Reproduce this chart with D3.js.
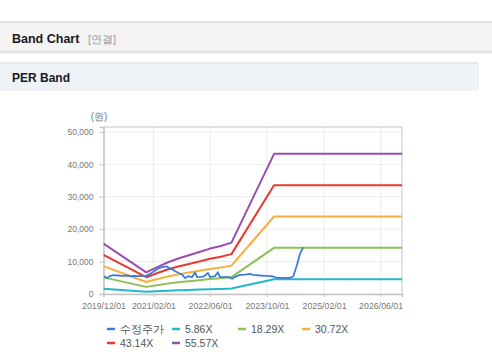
<!DOCTYPE html>
<html>
<head>
<meta charset="utf-8">
<script src="https://cdn.jsdelivr.net/npm/d3@7"></script>
<style>
  html, body { margin: 0; padding: 0; background: #fff; }
  body { width: 492px; height: 361px; overflow: hidden; font-family: "Liberation Sans", Arial, sans-serif; }
</style>
</head>
<body>
<svg id="chart" width="492" height="361"></svg>
<script>
// ---------- DATA ----------
const bandDates = ["2019-12-01","2020-12-01","2021-03-01","2021-06-01","2021-09-01","2021-12-01","2022-03-01","2022-06-01","2022-09-01","2022-12-01","2023-12-01","2026-12-01"];
const band586  = [1641, 703, 867, 1026, 1154, 1260, 1365, 1477, 1559, 1670, 4559, 4559];
const band1829 = [5121, 2195, 2707, 3201, 3603, 3932, 4262, 4609, 4865, 5213, 14230, 14230];
const band3072 = [8602, 3686, 4547, 5376, 6052, 6605, 7158, 7741, 8172, 8755, 23900, 23900];
const band4314 = [12079, 5177, 6385, 7550, 8499, 9275, 10052, 10871, 11475, 12295, 33563, 33563];
const band5557 = [15560, 6668, 8224, 9725, 10947, 11948, 12948, 14004, 14782, 15837, 43233, 43233];

const priceDates = ["2019-12-06","2020-01-02","2020-01-28","2020-02-22","2020-04-04","2020-05-10","2020-06-21","2020-07-16","2020-08-28","2020-10-10","2020-12-01","2021-01-04","2021-01-31","2021-03-13","2021-04-16","2021-05-28","2021-06-24","2021-07-19","2021-08-06","2021-09-09","2021-10-04","2021-10-31","2021-11-25","2021-12-28","2022-01-24","2022-02-09","2022-03-25","2022-04-19","2022-05-13","2022-06-01","2022-07-13","2022-08-07","2022-08-25","2022-11-03","2022-12-07","2023-01-01","2023-02-13","2023-03-25","2023-05-10","2023-06-04","2023-08-04","2023-09-16","2023-10-28","2023-11-24","2023-12-28","2024-03-04","2024-04-16","2024-05-13","2024-06-13","2024-07-10","2024-08-07"];
const priceValues = [5500, 4900, 5600, 5800, 5700, 5600, 5700, 5500, 5600, 5500, 5600, 6200, 6900, 7800, 8300, 8500, 7800, 7500, 7000, 6400, 6000, 4900, 5500, 5200, 6600, 5200, 5300, 5700, 6500, 5200, 5500, 6700, 5200, 5200, 4700, 5300, 5900, 6000, 6200, 5900, 5700, 5600, 5500, 5400, 5000, 5000, 5000, 5400, 8800, 12400, 14400];

const seriesNames = ["수정주가", "5.86X", "18.29X", "30.72X", "43.14X", "55.57X"];
const seriesColors = ["#3b7ddd", "#22b8cc", "#8dc153", "#f9ad3c", "#e8382f", "#9a4eae"];
const xTickLabels = ["2019/12/01","2021/02/01","2022/06/01","2023/10/01","2025/02/01","2026/06/01"];
const yTickValues = [0, 10000, 20000, 30000, 40000, 50000];

// ---------- DRAW ----------
const svg = d3.select("#chart");
const parse = d3.timeParse("%Y-%m-%d");
const parseTick = d3.timeParse("%Y/%m/%d");

// Header bars
svg.append("rect").attr("x", 0).attr("y", 21).attr("width", 492).attr("height", 2).attr("fill", "#e2e2e2");
svg.append("rect").attr("x", 0).attr("y", 23).attr("width", 492).attr("height", 28).attr("fill", "#f4f4f4");
svg.append("rect").attr("x", 0).attr("y", 51).attr("width", 492).attr("height", 1.5).attr("fill", "#dcdcdc");
svg.append("rect").attr("x", 0).attr("y", 52.5).attr("width", 492).attr("height", 1.5).attr("fill", "#ececec");
svg.append("text").attr("x", 12).attr("y", 43).attr("font-size", "12.5px").attr("font-weight", "bold")
  .attr("fill", "#1a1a1a").text("Band Chart");
svg.append("text").attr("x", 88).attr("y", 43).attr("font-size", "11px")
  .attr("fill", "#9a9a9a").text("[연결]");

svg.append("rect").attr("x", 0).attr("y", 62).attr("width", 479).attr("height", 2).attr("fill", "#e6e9ee");
svg.append("rect").attr("x", 0).attr("y", 64).attr("width", 479).attr("height", 27).attr("fill", "#eff2f7");
svg.append("text").attr("x", 12).attr("y", 82).attr("font-size", "12px").attr("font-weight", "bold")
  .attr("fill", "#1a1a1a").text("PER Band");

// Scales
const x = d3.scaleTime()
  .domain([parse("2019-12-01"), parse("2026-12-01")])
  .range([103.5, 402]);
const y = d3.scaleLinear().domain([0, 51500]).range([294, 127]);

const g = svg.append("g");

// Grid
const xTicks = xTickLabels.map(parseTick);
g.append("g").selectAll("line").data(xTicks).join("line")
  .attr("x1", d => x(d)).attr("x2", d => x(d))
  .attr("y1", y.range()[1]).attr("y2", y.range()[0])
  .attr("stroke", "#ececec").attr("stroke-width", 1);
g.append("g").selectAll("line").data(yTickValues).join("line")
  .attr("x1", x.range()[0]).attr("x2", x.range()[1])
  .attr("y1", d => y(d)).attr("y2", d => y(d))
  .attr("stroke", "#ececec").attr("stroke-width", 1);

// Border top/right
g.append("line").attr("x1", x.range()[0]).attr("x2", x.range()[1]).attr("y1", 127).attr("y2", 127)
  .attr("stroke", "#d8d8d8").attr("stroke-width", 1.5);
g.append("line").attr("x1", x.range()[1]).attr("x2", x.range()[1]).attr("y1", 127).attr("y2", 294)
  .attr("stroke", "#d8d8d8").attr("stroke-width", 1.5);

// Axes
const yAxis = d3.axisLeft(y).tickValues(yTickValues).tickFormat(d3.format(",")).tickSize(4).tickPadding(6);
const yg = g.append("g").attr("transform", `translate(${x.range()[0]},0)`).call(yAxis);
yg.select(".domain").attr("stroke", "#c4c4c4").attr("stroke-width", 1.5);
yg.selectAll(".tick line").attr("stroke", "#c4c4c4");
yg.selectAll("text").attr("fill", "#777").attr("font-size", "8.5px")
  .attr("font-family", "'Liberation Sans', Arial, sans-serif");

const xAxis = d3.axisBottom(x).tickValues(xTicks).tickFormat((d, i) => xTickLabels[i]).tickSize(3).tickPadding(6);
const xg = g.append("g").attr("transform", `translate(0,294)`).call(xAxis);
xg.select(".domain").attr("stroke", "#c4c4c4").attr("stroke-width", 1.5);
xg.selectAll(".tick line").attr("stroke", "#c4c4c4");
xg.selectAll("text").attr("fill", "#777").attr("font-size", "8.8px")
  .attr("font-family", "'Liberation Sans', Arial, sans-serif");

// Unit label
svg.append("text").attr("x", 99).attr("y", 120).attr("text-anchor", "middle")
  .attr("font-size", "10px").attr("fill", "#777").text("(원)");

// Lines
const line = d3.line().x(d => x(d[0])).y(d => y(d[1]));
const bd = bandDates.map(parse);
const bands = [band586, band1829, band3072, band4314, band5557];
svg.append("clipPath").attr("id", "clip").append("rect")
  .attr("x", x.range()[0]).attr("y", 120).attr("width", x.range()[1] - x.range()[0]).attr("height", 180);
const lg = g.append("g").attr("clip-path", "url(#clip)");
bands.forEach((vals, i) => {
  lg.append("path").datum(bd.map((d, j) => [d, vals[j]]))
    .attr("d", line).attr("fill", "none")
    .attr("stroke", seriesColors[i + 1]).attr("stroke-width", 2)
    .attr("stroke-linejoin", "round");
});
lg.append("path").datum(priceDates.map((d, j) => [parse(d), priceValues[j]]))
  .attr("d", line).attr("fill", "none")
  .attr("stroke", seriesColors[0]).attr("stroke-width", 1.8)
  .attr("stroke-linejoin", "round");

// Legend
const legendPos = [[107,329],[172,329],[238,329],[302,329],[107,343],[172,343]];
const leg = svg.append("g");
seriesNames.forEach((name, i) => {
  const [lx, ly] = legendPos[i];
  leg.append("line").attr("x1", lx).attr("x2", lx + 8).attr("y1", ly).attr("y2", ly)
    .attr("stroke", seriesColors[i]).attr("stroke-width", 2.5);
  leg.append("text").attr("x", lx + 13).attr("y", ly + 4)
    .attr("font-size", "10.5px").attr("fill", "#555").text(name);
});
</script>
</body>
</html>
